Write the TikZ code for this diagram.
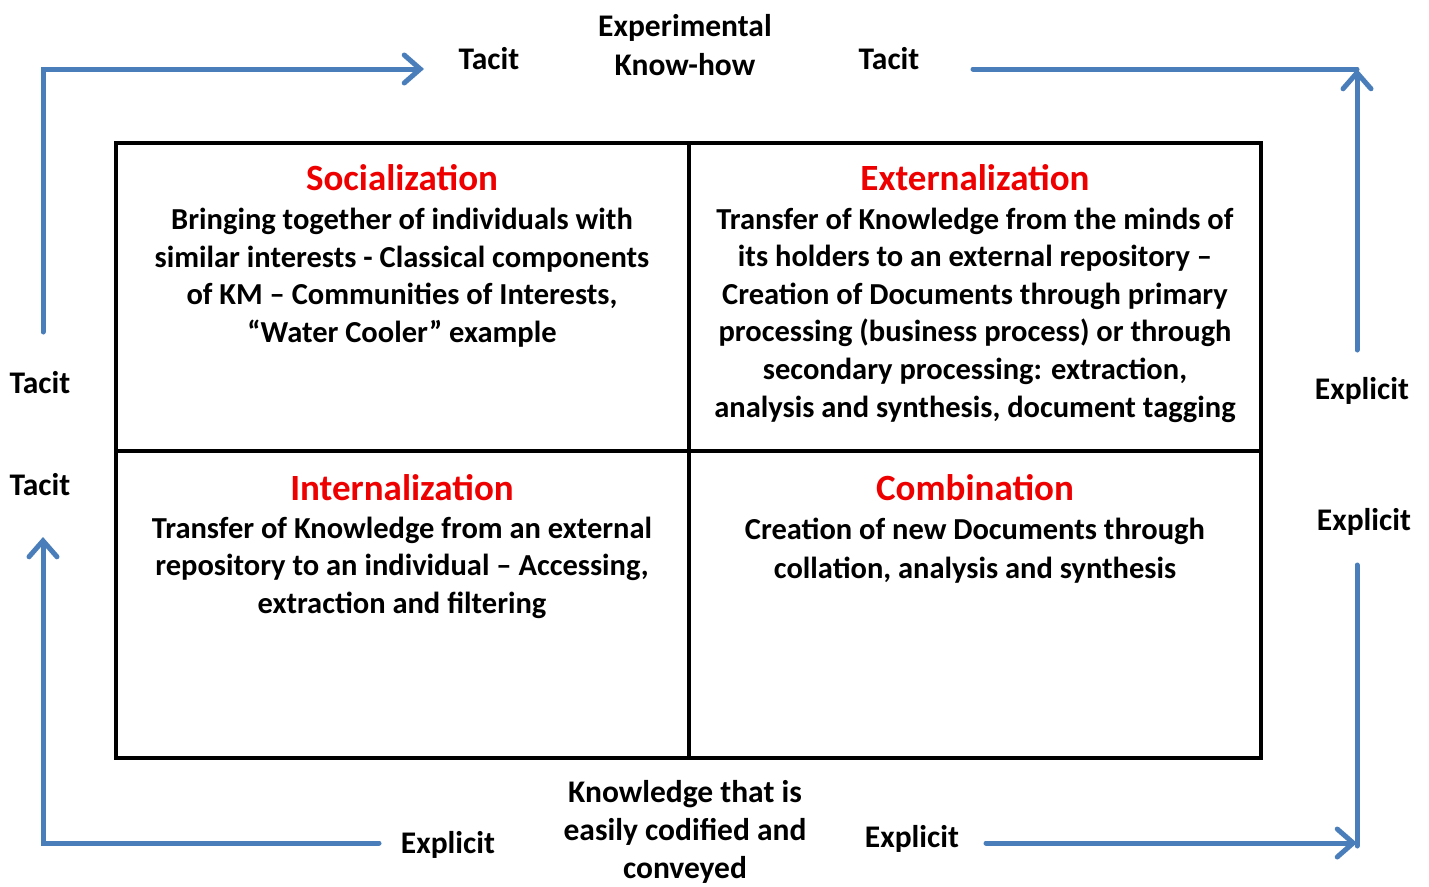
\documentclass[tikz,border=0pt]{standalone}
\usepackage{fontspec}
\setmainfont{Carlito}
\usetikzlibrary{arrows.meta}
\definecolor{flow}{HTML}{4A7EBB}
\definecolor{ttl}{HTML}{EE0000}
\tikzset{
  flowline/.style={draw=flow, line width=5pt, line cap=round, line join=miter},
  flowarrow/.style={flowline, -{Straight Barb[length=16pt, width=28pt, line width=5pt, line cap=round]}},
  cell/.style={draw=black, line width=4pt},
  lbl/.style={font=\bfseries\fontsize{31.5}{39}\selectfont, align=center, inner sep=0pt},
  lbltight/.style={font=\bfseries\fontsize{31.5}{38}\selectfont, align=center, inner sep=0pt},
  title/.style={font=\bfseries\fontsize{37}{40}\selectfont, text=ttl, inner sep=0pt},
  body/.style={font=\bfseries\fontsize{30.5}{37.6}\selectfont, align=center, inner sep=0pt, anchor=center}
}
\begin{document}
\begin{tikzpicture}[x=1pt,y=-1pt]
\useasboundingbox (0,0) rectangle (1429,886);
% grid
\draw[cell] (116,143) rectangle (1261,758);
\draw[cell] (689,143) -- (689,758);
\draw[cell] (116,451) -- (1261,451);
% titles
\node[title] (soc) at (402,178) {Socialization};
\node[title] (ext) at (975,178) {Externalization};
\node[title] (int) at (402,488) {Internalization};
\node[title] (com) at (975,488) {Combination};
% bodies
\node[body] (socb) at (402,277.5) {Bringing together of individuals with\\similar interests - Classical components\\of KM -- Communities of Interests,\\``Water Cooler'' example};
\node[body] (extb) at (975,315) {Transfer of Knowledge from the minds of\\its holders to an external repository --\\Creation of Documents through primary\\processing (business process) or through\\secondary processing: extraction,\\analysis and synthesis, document tagging};
\node[body] (intb) at (402,567.5) {Transfer of Knowledge from an external\\repository to an individual -- Accessing,\\extraction and filtering};
\node[body, font=\bfseries\fontsize{30.5}{39}\selectfont] (comb) at (975,550.5) {Creation of new Documents through\\collation, analysis and synthesis};
% outer labels
\node[lbl] (top) at (685,45) {Experimental\\Know-how};
\node[lbl] (tl) at (489,59) {Tacit};
\node[lbl] (tr) at (889,59) {Tacit};
\node[lbl] (lt) at (40,383) {Tacit};
\node[lbl] (lb) at (40,485) {Tacit};
\node[lbl] (rt) at (1362,391) {Explicit};
\node[lbl] (rb) at (1364,522) {Explicit};
\node[lbl] (bl) at (448,845) {Explicit};
\node[lbl] (br) at (912,839) {Explicit};
\node[lbltight] (bot) at (685,832) {Knowledge that is\\easily codified and\\conveyed};
% flow coordinates
\coordinate (a1) at (43,332);
\coordinate (a2) at (43,69);
\coordinate (a3) at (424,69);
\coordinate (b1) at (973,69);
\coordinate (b2) at (1357,69);
\coordinate (b3) at (1357,350);
\coordinate (c1) at (379,843);
\coordinate (c2) at (43,843);
\coordinate (c3) at (43,537);
\coordinate (d1) at (986,843);
\coordinate (d2) at (1357,843);
\coordinate (d3) at (1357,565);
\coordinate (d4) at (1357,846);
% flows
\draw[flowarrow] (a1) -- (a2) -- (a3);
\draw[flowline] (b1) -- (b2);
\draw[flowarrow] (b3) -- (b2);
\draw[flowarrow] (c1) -- (c2) -- (c3);
\draw[flowline] (d3) -- (d4);
\draw[flowarrow] (d1) -- (d2);
\end{tikzpicture}
\end{document}
